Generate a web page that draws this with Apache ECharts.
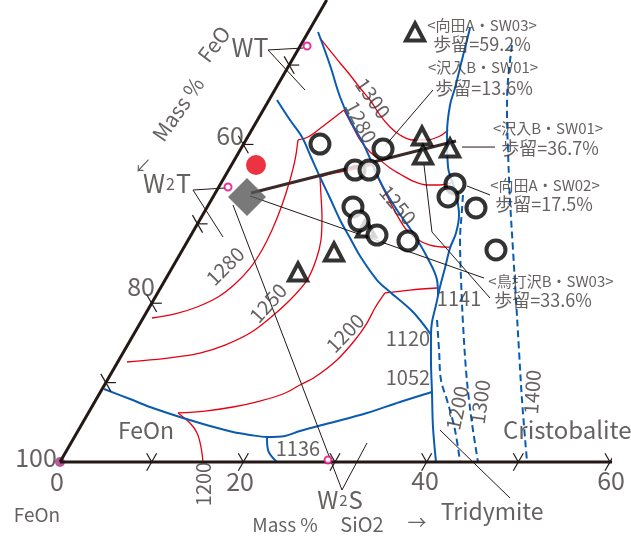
<!DOCTYPE html>
<html><head><meta charset="utf-8">
<script src="https://cdn.jsdelivr.net/npm/echarts@6/dist/echarts.min.js"></script>
<style>html,body{margin:0;padding:0;background:#fff}#c{width:631px;height:539px}</style>
</head><body><div id="c"></div>
<script>
// Chart-plane coordinates of the ternary diagram:
// x = position along the SiO2 (bottom) axis in mass %, y = height in the same % units.
const sio2Ticks = [10, 20, 30, 40, 50, 60];
const feoTicks = [90, 80, 70, 60, 50];
const sio2TickLabels = ['0', '20', '40', '60'];
const feoTickLabels = ['80', '60'];
const sio2Max = 61.1, feoTop = 41.8;

// phase boundaries (solid blue)
const boundaryA = [[23.67,39.49],[25.09,37.31],[26.40,35.45],[27.38,33.27],[28.36,31.09],[29.45,28.80],[30.55,26.40],[31.64,24.44],[32.73,22.47],[34.58,19.85],[36.00,18.55],[38.51,16.36],[40.50,13.85]];
const boundaryB = [[28.15,46.91],[29.45,43.31],[30.55,39.82],[31.64,37.31],[33.05,34.80],[34.04,32.62],[35.24,30.00],[36.76,27.49],[38.51,24.98],[40.04,22.36],[41.13,19.85],[41.24,18.11]];
const boundaryC = [[44.73,47.35],[43.85,43.85],[43.09,40.80],[42.55,38.95],[42.22,35.89],[42.33,32.18],[43.09,29.67],[43.53,26.95],[43.20,24.98],[42.55,23.35],[42.00,21.16],[41.45,19.09],[41.02,17.13],[40.58,15.27],[40.47,13.85],[40.47,11.13],[40.58,7.64],[40.69,3.82],[41.02,0]];
const boundaryD = [[4.80,7.96],[7.64,6.87],[9.82,6.00],[13.42,4.80],[16.36,3.93],[18.87,3.27],[20.73,2.95],[22.58,2.73],[24.55,2.84],[26.18,3.38],[29.45,4.25],[33.49,5.35],[37.09,6.55],[40.58,7.64]];
const boundaryE = [[22.58,2.73],[22.69,1.31],[23.67,0]];

// silica isotherms (dashed blue)
const silica1200 = [[41.13,15.49],[41.35,12.22],[41.56,8.95],[42.22,6.76],[43.09,3.49],[43.64,0]];
const silica1300 = [[43.96,29.13],[43.85,27.49],[43.64,24.22],[43.75,19.85],[43.96,15.16],[44.29,10.04],[44.62,6.76],[45.05,3.49],[45.60,0]];
const silica1400 = [[49.31,45.49],[48.87,41.67],[48.76,38.40],[48.87,34.04],[49.09,28.58],[49.42,23.13],[49.75,17.67],[50.07,12.22],[50.40,6.76],[50.95,0]];

// liquidus isotherms (red), split at boundary kinks
const iso1300 = [[[28.36,46.25],[29.24,45.16],[30.55,43.53],[31.64,42.22],[32.73,40.80],[33.82,39.49],[34.91,37.85],[36.00,36.55],[37.09,35.67],[38.51,35.13],[40.04,35.13],[41.45,35.56],[42.33,36.22]]];
const iso1280 = [
  [[10.04,15.71],[12.55,16.15],[14.95,16.91],[17.24,18.00],[19.09,19.42],[20.73,21.16],[22.04,23.13],[23.13,25.31],[24.22,28.04],[25.09,30.76],[25.64,32.95],[25.96,35.13]],
  [[25.96,35.13],[27.05,35.45],[28.58,36.55],[30.98,38.40]],
  [[30.98,38.40],[31.85,36.76],[32.73,35.13],[33.82,33.82],[34.91,32.95],[36.00,32.07],[37.09,31.42],[38.51,30.65],[40.04,30.22],[41.45,30.22],[42.65,30.44]]
];
const iso1250 = [
  [[7.31,10.91],[9.82,11.13],[12.55,11.45],[15.27,11.89],[18.00,12.76],[20.73,14.07],[22.91,15.71],[25.09,17.67],[26.95,19.85],[27.93,22.04],[28.47,24.22],[28.58,26.73],[28.47,29.13],[28.36,31.09]],
  [[28.36,31.09],[30.00,31.53],[31.64,31.85],[34.04,32.40]],
  [[34.04,32.40],[34.69,30.98],[35.78,28.80],[36.76,26.95],[37.64,25.53],[38.73,24.44],[40.36,23.67],[42.22,23.45],[42.65,23.45]]
];
const iso1200 = [
  [[41.13,18.98],[38.18,18.76],[35.45,18.44]],
  [[35.45,18.44],[34.36,16.80],[33.49,15.16],[32.18,13.31],[30.22,11.13],[27.82,9.27],[26.18,8.40],[24.33,7.42],[21.82,6.65],[18.87,6.00],[15.82,5.56],[12.87,5.35]],
  [[12.87,5.35],[14.18,4.25],[14.95,3.16],[15.38,1.64],[15.60,0]]
];

// slag samples
const slagCircles = [[28.36,34.69],[35.24,34.15],[32.18,31.85],[33.71,31.85],[31.96,27.82],[32.62,26.29],[34.58,24.76],[37.96,24.11],[43.09,30.33],[42.33,28.91],[45.38,27.71],[47.56,23.13]];
const slagTriangles = [[33.38,25.53],[39.49,35.56],[39.60,33.49],[42.55,34.25],[29.89,22.91],[25.96,20.73]];
const legendTriangle = [[38.73,46.91]];
const redPoint = [[21.38,32.40]];
const diamondPoint = [[20.40,28.91]];
const wtPoint = [[26.95,45.38]];
const w2tPoint = [[18.33,30.00]];
const w2sPoint = [[29.24,0.22]];
const trendLine = [[20.84,29.35],[43.20,35.02]];

// leader / construction lines (thin black)
const leaders = [
  [[22.69,44.95],[26.51,45.16]], [[22.69,44.95],[26.73,40.58]],
  [[14.51,29.67],[18.00,29.89]], [[14.51,29.67],[17.78,24.55]],
  [[18.87,28.04],[30.76,-3.05]], [[30.76,-3.05],[33.49,2.07]],
  [[20.73,29.02],[46.25,20.07]],
  [[39.71,32.40],[40.58,25.09],[46.91,17.89]],
  [[35.45,34.47],[40.69,40.58]],
  [[43.85,34.36],[47.45,34.36]],
  [[44.40,30.11],[46.91,29.13]],
  [[41.45,3.49],[49.09,-3.93]]
];

const FONT = "'Noto Sans CJK JP','Noto Sans',sans-serif";
const TXT = '#3e3a39';
const RED = '#e60012', BLUE = '#0a5bb0', INK = '#231815';
const annotations = [
  {t:'100', p:[-2.62,0.44], s:25}, {t:sio2TickLabels[0], p:[-0.33,-2.18], s:25}, {t:sio2TickLabels[1], p:[19.64,-2.18], s:25},
  {t:sio2TickLabels[2], p:[39.82,-2.07], s:25}, {t:sio2TickLabels[3], p:[60.11,-2.07], s:25},
  {t:feoTickLabels[1], p:[18.55,35.67], s:25}, {t:feoTickLabels[0], p:[8.84,19.20], s:25},
  {t:'FeO', p:[16.80,45.60], s:21, r:53}, {t:'Mass %', p:[12.87,38.51], s:21, r:55},
  {t:'↙', p:[9.05,32.29], s:17},
  {t:'WT', p:[20.73,45.27], s:25},
  {t:'{a|W}{b|2}{a|T}', p:[11.67,30.33], s:25, rich:true},
  {t:'FeOn', p:[9.38,3.49], s:23}, {t:'FeOn', p:[-2.51,-5.78], s:19},
  {t:'1136', p:[25.96,1.53], s:20}, {t:'1200', p:[15.60,-2.40], s:20, r:90},
  {t:'{a|W}{b|2}{a|S}', p:[30.55,-4.15], s:24, rich:true},
  {t:'Mass %', p:[24.55,-6.87], s:19}, {t:'SiO2', p:[32.95,-6.76], s:20}, {t:'→', p:[38.95,-6.65], s:19},
  {t:'Tridymite', p:[47.13,-5.35], s:23}, {t:'Cristobalite', p:[48.33,3.49], s:24, a:'left'},
  {t:'1052', p:[37.96,9.27], s:20}, {t:'1120', p:[37.96,13.53], s:20}, {t:'1141', p:[43.53,17.89], s:20},
  {t:'1200', p:[43.31,5.89], s:20, r:78}, {t:'1300', p:[45.82,6.55], s:20, r:82}, {t:'1400', p:[51.49,7.64], s:20, r:86},
  {t:'1280', p:[18.00,21.38], s:20, r:45}, {t:'1250', p:[22.69,17.35], s:20, r:48}, {t:'1200', p:[31.09,14.07], s:20, r:46},
  {t:'1280', p:[32.84,37.09], s:20, r:-62}, {t:'1300', p:[34.15,39.71], s:20, r:-55}, {t:'1250', p:[36.87,28.04], s:20, r:-50},
  {t:'<向田A・SW03>', p:[46.04,47.67], s:15}, {t:'歩留=59.2%', p:[46.04,45.60], s:18},
  {t:'<沢入B・SW01>', p:[46.15,43.09], s:15}, {t:'歩留=13.6%', p:[46.25,40.80], s:18},
  {t:'<沢入B・SW01>', p:[53.24,36.44], s:15}, {t:'歩留=36.7%', p:[53.45,34.25], s:18},
  {t:'<向田A・SW02>', p:[52.91,30.22], s:15}, {t:'歩留=17.5%', p:[52.80,28.15], s:18},
  {t:'<鳥打沢B・SW03>', p:[53.56,19.75], s:15}, {t:'歩留=33.6%', p:[52.69,17.67], s:18}
];

const series = [];
function line(pts, color, width, o) {
  o = o || {};
  series.push({type:'line', data:pts, symbol:'none', showSymbol:false, clip:false, silent:true, animation:false,
    smooth: o.smooth || 0, z: o.z || 2,
    lineStyle:{color:color, width:width, type:o.dash || 'solid', cap:'butt', join:'round'}});
}
// isotherms
[iso1300, iso1280, iso1250, iso1200].forEach(function(iso){ iso.forEach(function(seg){ line(seg, RED, 1.3, {smooth:0.35, z:2}); }); });
// boundaries
[boundaryA, boundaryB, boundaryC, boundaryD, boundaryE].forEach(function(b){ line(b, BLUE, 2, {smooth:0.35, z:3}); });
[silica1200, silica1300, silica1400].forEach(function(b){ line(b, BLUE, 2, {smooth:0.35, z:3, dash:[7,4]}); });
// leaders
leaders.forEach(function(l){ line(l, INK, 1, {z:3}); });

// triangle frame and ticks
const h = Math.sqrt(3) / 2, T = 1.1;
line([[0,0],[sio2Max,0]], INK, 3, {z:4});
line([[0,0],[(100-feoTop)/2,(100-feoTop)*h]], INK, 3, {z:4});
sio2Ticks.forEach(function(s){
  line([[s-0.5*T,-h*T],[s+0.5*T,h*T]], INK, 1.2, {z:4});
  line([[s,0],[s-0.5*T,h*T]], INK, 1.2, {z:4});
});
feoTicks.forEach(function(v){
  const d = 100 - v, px = d/2, py = d*h;
  line([[px+0.5*T,py-h*T],[px-0.5*T,py+h*T]], INK, 1.2, {z:4});
  line([[px,py],[px+T,py]], INK, 1.2, {z:4});
});
// trend line
line(trendLine, '#3a2a28', 3, {z:5});

function scatter(data, symbol, size, style, z) {
  series.push({type:'scatter', data:data, symbol:symbol, symbolSize:size, itemStyle:style, z:z, clip:false, silent:true, animation:false});
}
scatter([[0,0]], 'circle', 10, {color:'#a4317f'}, 3);
scatter(wtPoint.concat(w2tPoint, w2sPoint), 'circle', 7, {color:'#fff', borderColor:'#e4007f', borderWidth:2}, 6);
scatter(diamondPoint, 'diamond', 38, {color:'#595757'}, 6);
scatter(redPoint, 'circle', 20, {color:'#e60012'}, 6);
scatter(slagTriangles.concat(legendTriangle), 'triangle', [18,17], {color:'#fff', borderColor:'#000', borderWidth:4}, 7);
scatter(slagCircles, 'circle', 19, {color:'#fff', borderColor:'#000', borderWidth:4}, 8);

// text
series.push({type:'scatter', symbolSize:1, itemStyle:{color:'rgba(0,0,0,0)'}, z:10, clip:false, silent:true, animation:false,
  data: annotations.map(function(a){
    const lab = {show:true, position:'inside', formatter:a.t, fontSize:a.s, color:TXT, fontFamily:FONT,
      rotate:a.r || 0, textBorderWidth:0};
    if (a.a) lab.align = a.a;
    if (a.rich) lab.rich = {a:{fontSize:a.s, color:TXT, fontFamily:FONT}, b:{fontSize:Math.round(a.s*0.62), color:TXT, fontFamily:FONT, padding:[0,1,0,1]}};
    return {value:a.p, label:lab};
  })});

const chart = echarts.init(document.getElementById('c'));
chart.setOption({
  animation:false,
  grid:{left:60, right:21, top:3.667, bottom:77},
  xAxis:{type:'value', min:0, max:60, show:false},
  yAxis:{type:'value', min:0, max:50, show:false},
  series:series
});
</script></body></html>
